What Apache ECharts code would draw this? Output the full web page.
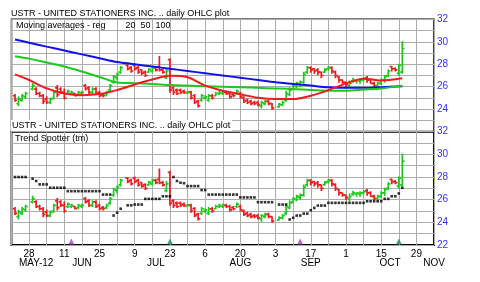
<!DOCTYPE html>
<html><head><meta charset="utf-8">
<script src="https://cdn.jsdelivr.net/npm/echarts@6/dist/echarts.min.js"></script>
<style>html,body{margin:0;padding:0;background:#fff}#c{width:480px;height:282px}</style>
</head><body><div id="c"></div>
<script>
// weekday index counted from Mon May 28 2012 (holidays May 28, Jul 4, Sep 3 have no bar)
const dayIdx = [-4,-3,-2,-1,
 1,2,3,4,5,6,7,8,9,10,11,12,13,14,15,16,17,18,19,20,21,22,23,24,25,26,
 28,29,30,31,32,33,34,35,36,37,38,39,40,41,42,43,44,45,46,47,48,49,50,
 51,52,53,54,55,56,57,58,59,60,61,62,63,64,65,66,67,68,69,
 71,72,73,74,75,76,77,78,79,80,81,82,83,84,85,86,87,88,89,90,
 91,92,93,94,95,96,97,98,99,100,101,102,103,104,105,106];
const opens = [25.2,24.5,24.8,25.1,
 25.8,25.8,25.4,25.2,24.9,24.6,25.0,25.9,25.8,25.5,25.4,25.4,25.4,25.3,25.4,26.1,25.9,25.5,25.8,25.5,25.3,25.3,25.7,26.4,26.8,27.3,
 27.9,27.7,27.9,27.7,27.5,27.3,27.3,27.4,27.7,27.8,27.5,26.8,28.4,25.9,25.7,25.7,25.6,25.45,25.5,25.2,24.7,24.8,25.0,
 24.8,25.2,25.2,25.4,25.4,25.5,25.4,25.3,25.4,25.4,25.0,24.8,24.7,24.6,24.6,24.3,24.5,24.7,24.5,
 24.2,24.4,24.8,25.3,25.8,26.0,26.2,26.4,27.3,27.7,27.6,27.5,27.3,27.3,27.6,27.7,27.3,26.9,26.6,26.4,
 26.1,26.5,26.5,26.5,26.6,26.8,26.6,26.3,26.1,26.3,26.6,27.0,27.8,27.6,27.2,27.3];
const closes = [24.8,24.9,25.2,25.4,
 26.1,25.4,25.2,24.7,24.6,24.9,25.5,25.3,25.5,25.0,25.6,25.5,25.2,25.5,25.5,25.8,25.5,25.8,25.4,25.2,25.2,25.5,26.1,26.9,27.1,27.7,
 27.6,27.4,27.6,27.3,27.2,27.0,27.55,27.7,27.5,27.5,27.3,27.4,25.7,25.5,25.4,25.5,25.5,25.55,25.0,24.6,24.3,25.2,25.1,
 25.2,25.0,25.4,25.5,25.5,25.4,25.1,25.2,25.6,25.1,24.7,24.6,24.5,24.5,24.4,24.6,24.7,24.5,24.1,
 24.4,24.6,25.4,25.7,26.1,26.3,26.4,27.1,27.7,27.5,27.4,27.3,27.0,27.5,27.7,27.4,27.0,26.6,26.4,26.2,
 26.3,26.6,26.6,26.6,26.7,26.6,26.3,26.1,26.3,26.6,26.9,27.4,27.6,27.5,27.9,29.4];
const lows = [24.7,24.3,24.7,25.0,
 25.7,25.3,25.1,24.5,24.5,24.5,24.9,25.1,25.4,24.9,25.3,25.3,25.2,25.2,25.3,25.7,25.4,25.4,25.3,25.1,25.1,25.2,25.6,26.3,26.6,27.2,
 27.5,27.3,27.5,27.2,27.1,26.9,27.3,27.3,27.4,27.4,27.2,26.7,25.5,25.3,25.3,25.4,25.4,25.4,24.9,24.5,24.2,24.7,24.9,
 24.7,24.9,25.2,25.3,25.3,25.3,25.0,25.1,25.3,25.0,24.6,24.5,24.4,24.4,24.3,24.1,24.4,24.4,24.0,
 24.2,24.3,24.7,25.2,25.7,25.9,26.0,26.3,27.2,27.3,27.2,27.1,26.8,27.3,27.5,27.2,26.8,26.4,26.3,26.0,
 25.9,26.4,26.3,26.3,26.5,26.4,26.3,26.0,26.0,26.2,26.4,26.9,27.4,27.4,27.0,27.2];
const highs = [25.3,25.1,25.3,25.5,
 26.3,25.9,25.5,25.3,25.1,25.0,25.6,26.1,25.9,25.8,25.7,25.6,25.4,25.6,25.6,26.2,26.0,25.9,25.9,25.6,25.4,25.6,26.2,27.0,27.2,27.8,
 27.95,27.8,28.0,27.8,27.5,27.4,27.6,27.8,27.8,28.7,27.6,27.6,28.5,26.0,25.8,25.8,25.7,25.6,25.6,25.3,24.8,25.3,25.2,
 25.3,25.3,25.5,25.6,25.6,25.6,25.5,25.4,25.7,25.5,25.1,24.9,24.8,24.7,24.7,24.7,24.8,24.8,24.5,
 24.5,24.7,25.6,25.9,26.2,26.4,26.5,27.3,27.8,27.75,27.6,27.6,27.3,27.6,27.8,27.75,27.4,26.9,26.6,26.4,
 26.5,26.75,26.6,26.7,26.8,26.9,26.7,26.4,26.4,26.7,27.0,27.5,27.8,27.7,28.0,30.0];
const trendSpotter = [28.0,28.0,28.0,28.0,
 27.85,27.65,27.35,27.35,27.35,27.05,27.05,27.05,27.05,27.05,26.75,26.75,26.75,26.75,26.75,26.75,26.75,26.75,26.75,26.75,26.45,26.45,26.45,24.6,24.85,25.2,
 25.5,25.5,25.57,25.57,25.57,26.07,26.07,26.07,26.07,26.07,26.3,26.3,26.3,28.0,27.65,27.5,27.45,27.2,27.2,27.2,27.2,26.85,26.85,
 26.45,26.45,26.45,26.45,26.45,26.45,26.45,26.45,26.45,26.2,26.2,26.2,26.2,26.2,25.78,25.78,25.78,25.78,25.78,
 25.57,25.57,25.57,24.25,24.4,24.6,24.6,24.77,24.77,25.07,25.27,25.48,25.48,25.48,25.72,25.72,25.72,25.72,25.72,25.72,
 25.72,25.72,25.72,25.72,25.72,25.86,25.86,25.86,25.86,25.86,26.07,26.07,26.3,26.3,26.55,27.05];
const maIdx = [-4,0,5,10,15,20,25,30,35,40,45,50,55,60,65,70,75,80,85,90,95,100,106];
const ma20  = [27.1,26.6,25.85,25.4,25.25,25.35,25.7,26.2,26.65,26.97,26.85,26.1,25.65,25.33,25.02,24.9,24.9,25.2,25.7,26.3,26.72,26.55,26.75];
const ma50  = [28.72,28.5,28.15,27.8,27.35,26.87,26.38,26.32,26.25,26.15,26.1,26.05,26.0,25.95,25.9,25.85,25.8,25.7,25.65,25.65,25.75,25.85,26.1];
const ma100 = [30.2,29.92,29.57,29.23,28.88,28.54,28.2,28.0,27.8,27.6,27.4,27.2,27.0,26.8,26.6,26.4,26.25,26.1,25.95,25.9,25.9,25.95,26.05];
const dayTicks = [0,10,20,30,40,50,60,70,80,90,100,110];
const dayLabels = ['28','11','25','9','23','6','20','3','17','1','15','29'];
const monthPos = [2,15,36,60,80,102.5,115];
const monthLabels = ['MAY-12','JUN','JUL','AUG','SEP','OCT','NOV'];
const eventIdx = [12,40,77,105];
const eventKind = ['div','earn','div','earn'];

const RED = '#ee1c1c', GREEN = '#1ec81e', BLUE = '#1010f0', FONT = 'Liberation Sans';
const ohlcData = dayIdx.map((d, k) => [d, opens[k], closes[k], lows[k], highs[k]]);
function renderOHLC(params, api) {
  const x = api.value(0), o = api.value(1), c = api.value(2), l = api.value(3), h = api.value(4);
  const pL = api.coord([x, l]), pH = api.coord([x, h]), pO = api.coord([x, o]), pC = api.coord([x, c]);
  const color = c >= o ? GREEN : RED;
  const st = {stroke: color, lineWidth: 1.7};
  return {type: 'group', children: [
    {type: 'line', shape: {x1: pL[0], y1: pL[1] + 0.5, x2: pH[0], y2: pH[1] - 0.5}, style: st},
    {type: 'line', shape: {x1: pO[0] - 2.2, y1: pO[1], x2: pO[0], y2: pO[1]}, style: st},
    {type: 'line', shape: {x1: pC[0], y1: pC[1], x2: pC[0] + 2.2, y2: pC[1]}, style: st}
  ]};
}
const maPts = arr => maIdx.map((d, k) => [d, arr[k]]);
const gridLine = {show: true, lineStyle: {color: '#acacac', width: 1}};
function xAx(gi, withLabels) {
  return {type: 'value', gridIndex: gi, min: -5, max: 115, interval: 5,
    axisLine: {show: false}, axisTick: {show: false}, splitLine: gridLine,
    axisLabel: withLabels ? {show: true, customValues: dayTicks, margin: 4, fontSize: 10, fontFamily: FONT, color: '#000',
      formatter: v => { const k = dayTicks.indexOf(Math.round(v)); return k >= 0 ? dayLabels[k] : ''; }} : {show: false}};
}
function yAx(gi, showMin) {
  return {type: 'value', gridIndex: gi, position: 'right', min: 22, max: 32, interval: 1,
    axisLine: {show: false}, axisTick: {show: false}, splitLine: gridLine,
    axisLabel: {margin: 3, fontSize: 10, fontFamily: FONT, color: '#3030ff',
      formatter: v => (v % 2 === 0 && (showMin || v !== 22)) ? String(v) : ''}};
}
const titleStyle = {fontSize: 9, fontWeight: 'normal', color: '#000', fontFamily: FONT};
const chart = echarts.init(document.getElementById('c'), null, {renderer: 'canvas'});
chart.setOption({
  animation: false,
  backgroundColor: '#fff',
  title: [
    {text: 'USTR - UNITED STATIONERS INC. .. daily OHLC plot', left: 11, top: 9, padding: 0, textStyle: titleStyle},
    {text: 'Moving averages - reg        20  50  100', left: 16, top: 21, padding: 0, textStyle: titleStyle},
    {text: 'USTR - UNITED STATIONERS INC. .. daily OHLC plot', left: 11, top: 120, padding: [1, 2, 1, 1], backgroundColor: '#fff', textStyle: titleStyle, z: 10},
    {text: 'Trend Spotter (tm)', left: 15, top: 134, padding: 0, textStyle: titleStyle}
  ],
  grid: [
    {left: 11.5, right: 46, top: 19.3, height: 112.4, show: true, borderColor: '#000', borderWidth: 1.5, backgroundColor: 'transparent'},
    {left: 11.5, right: 46, top: 131.7, height: 113.3, show: true, borderColor: '#000', borderWidth: 1.8, backgroundColor: 'transparent'}
  ],
  xAxis: [
    xAx(0, false),
    xAx(1, true),
    {type: 'value', gridIndex: 1, min: -5, max: 115, position: 'bottom',
      axisLine: {show: false}, axisTick: {show: false}, splitLine: {show: false},
      axisLabel: {customValues: monthPos, margin: 13, fontSize: 10, fontFamily: FONT, color: '#000',
        formatter: v => { const k = monthPos.indexOf(v); return k >= 0 ? monthLabels[k] : ''; }}}
  ],
  yAxis: [yAx(0, false), yAx(1, true)],
  series: [
    {type: 'custom', xAxisIndex: 0, yAxisIndex: 0, renderItem: renderOHLC, data: ohlcData, encode: {x: 0, y: [1, 2, 3, 4]}, clip: true, z: 3},
    {type: 'line', xAxisIndex: 0, yAxisIndex: 0, data: maPts(ma100), smooth: 0.3, showSymbol: false, lineStyle: {color: BLUE, width: 2}, z: 4},
    {type: 'line', xAxisIndex: 0, yAxisIndex: 0, data: maPts(ma50), smooth: 0.3, showSymbol: false, lineStyle: {color: GREEN, width: 2}, z: 4},
    {type: 'line', xAxisIndex: 0, yAxisIndex: 0, data: maPts(ma20), smooth: 0.3, showSymbol: false, lineStyle: {color: RED, width: 2}, z: 4},
    {type: 'custom', xAxisIndex: 1, yAxisIndex: 1, renderItem: renderOHLC, data: ohlcData, encode: {x: 0, y: [1, 2, 3, 4]}, clip: true, z: 3},
    {type: 'scatter', xAxisIndex: 1, yAxisIndex: 1, data: dayIdx.map((d, k) => [d, trendSpotter[k]]), symbol: 'rect', symbolSize: 2.6, itemStyle: {color: '#000'}, z: 4},
    {type: 'scatter', xAxisIndex: 1, yAxisIndex: 1, data: eventIdx.map(d => [d, 22.3]), symbol: 'triangle', symbolSize: [6, 6],
      itemStyle: {color: p => eventKind[p.dataIndex] === 'div' ? '#a93cc8' : '#1f8a66'}, z: 5}
  ]
});
</script></body></html>
